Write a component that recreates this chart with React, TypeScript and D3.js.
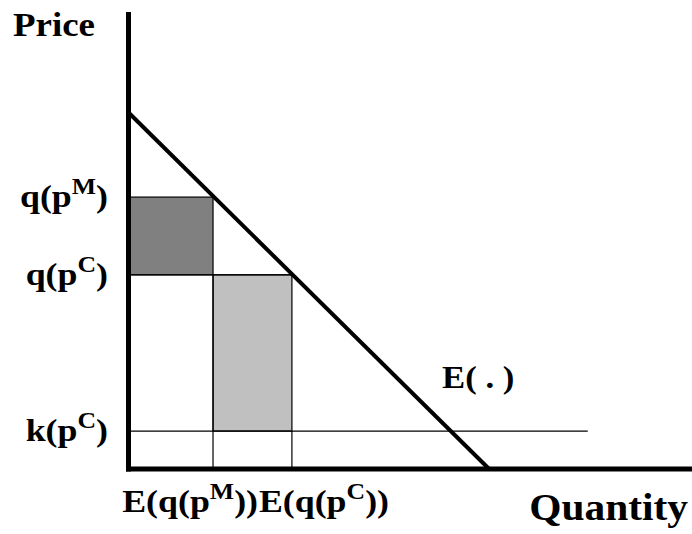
import React from 'react';
import * as d3 from 'd3';

const W = 692;
const H = 534;

// demand curve E(.) : two end points (quantity, price)
const demandQty = [0, 6.4];
const demandPrice = [7.8, 0];

// price levels on the vertical axis: q(pM), q(pC), k(pC)
const priceLevels = [5.95, 4.25, 0.83];
const priceTickBase = ['q(p', 'q(p', 'k(p'];
const priceTickSup = ['M', 'C', 'C'];

// quantity levels on the horizontal axis: E(q(pM)), E(q(pC))
const qtyLevels = [1.5, 2.9];
const qtyTickBase = ['E(q(p', 'E(q(p'];
const qtyTickSup = ['M', 'C'];

const kLineEnd = 8.15;

const FONT = '"Liberation Serif", "Times New Roman", serif';
const SX = 1.12;

const x = d3.scaleLinear().domain([0, 10]).range([128.5, 692]);
const y = d3.scaleLinear().domain([0, 10]).range([469, 12]);

function Label(props: { tx: number; ty: number; anchor: string; base: string; sup: string; tail: string; size?: number }) {
  const size = props.size || 32;
  return (
    <text
      transform={`translate(${props.tx},${props.ty}) scale(${SX},1)`}
      textAnchor={props.anchor}
      fontFamily={FONT}
      fontWeight="bold"
      fontSize={size}
      fill="#000"
    >
      {props.base}
      <tspan fontSize={23} dy={-13}>{props.sup}</tspan>
      <tspan fontSize={size} dy={13}>{props.tail}</tspan>
    </text>
  );
}

export default function App() {
  const demandPts: [number, number][] = demandQty.map((q, i) => [x(q), y(demandPrice[i])]);
  const line = d3.line();

  const [pM, pC, kC] = priceLevels;
  const [qM, qC] = qtyLevels;

  return (
    <svg width={W} height={H} style={{ position: 'absolute', left: 0, top: 0, background: '#fff' }}>
      <rect width={W} height={H} fill="#fff" />
      {/* shaded rectangles */}
      <rect x={x(0)} y={y(pM)} width={x(qM) - x(0)} height={y(pC) - y(pM)} fill="#808080" stroke="#000" strokeWidth={1.2} />
      <rect x={x(qM)} y={y(pC)} width={x(qC) - x(qM)} height={y(kC) - y(pC)} fill="#c0c0c0" stroke="#000" strokeWidth={1.2} />

      {/* thin guide lines */}
      <g stroke="#000" strokeWidth={1.2}>
        <line x1={x(0)} x2={x(kLineEnd)} y1={y(kC)} y2={y(kC)} />
        <line x1={x(qM)} x2={x(qM)} y1={y(pC)} y2={y(0)} />
        <line x1={x(qC)} x2={x(qC)} y1={y(kC)} y2={y(0)} />
        <line x1={x(0)} x2={x(qC)} y1={y(pC)} y2={y(pC)} />
      </g>

      {/* demand curve */}
      <path d={line(demandPts) || ''} stroke="#000" strokeWidth={4} fill="none" />

      {/* axes */}
      <g stroke="#000" strokeWidth={5}>
        <line x1={x(0)} x2={x(0)} y1={y(10)} y2={y(0) + 2.5} />
        <line x1={x(0) - 2.5} x2={x(10)} y1={y(0)} y2={y(0)} />
      </g>

      {/* axis titles */}
      <text transform={`translate(13,36) scale(${SX},1)`} fontFamily={FONT} fontWeight="bold" fontSize={33}>Price</text>
      <text transform={`translate(688,520) scale(${SX},1)`} textAnchor="end" fontFamily={FONT} fontWeight="bold" fontSize={37}>Quantity</text>

      {/* price tick labels */}
      {priceLevels.map((p, i) => (
        <Label key={'p' + i} tx={108} ty={y(p) + 10} anchor="end" base={priceTickBase[i]} sup={priceTickSup[i]} tail=")" />
      ))}

      {/* quantity tick labels */}
      <Label tx={x(qM) + 45} ty={512} anchor="end" base={qtyTickBase[0]} sup={qtyTickSup[0]} tail="))" />
      <Label tx={x(qC) - 33} ty={512} anchor="start" base={qtyTickBase[1]} sup={qtyTickSup[1]} tail="))" />

      {/* curve label */}
      <text transform={`translate(442,388) scale(${SX},1)`} fontFamily={FONT} fontWeight="bold" fontSize={31}>E( . )</text>
    </svg>
  );
}
